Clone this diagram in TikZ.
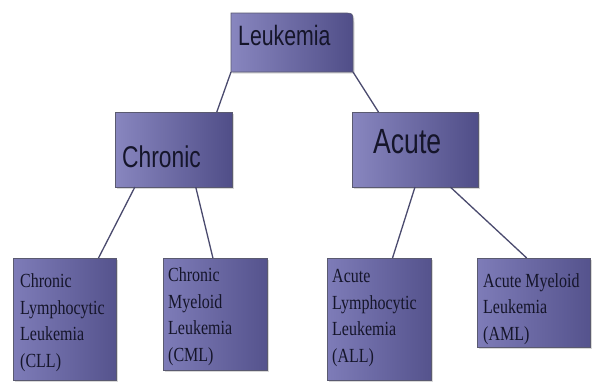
\documentclass[tikz,border=0pt]{standalone}
\usepackage{fontspec}
\usetikzlibrary{calc,shadows}
\newfontfamily\hdfont[FakeStretch=0.76]{Liberation Sans}
\newfontfamily\bdfont[FakeStretch=0.8]{Liberation Serif}
\definecolor{boxL}{HTML}{8886BF}
\definecolor{boxR}{HTML}{504E88}
\definecolor{boxLb}{HTML}{7E7CB8}
\definecolor{boxRb}{HTML}{55538D}
\definecolor{edgec}{HTML}{5A5A70}
\definecolor{linec}{HTML}{4A4A6E}
\definecolor{txt}{HTML}{15152A}
\tikzset{
  topbox/.style={draw=edgec, line width=0.6pt, left color=boxL, right color=boxR,
    drop shadow={shadow xshift=1.5pt, shadow yshift=-1.5pt, opacity=0.3}},
  subbox/.style={draw=edgec, line width=0.6pt, left color=boxLb, right color=boxRb,
    drop shadow={shadow xshift=1.5pt, shadow yshift=-1.5pt, opacity=0.3}},
  boxnode/.style={rectangle, inner sep=0pt, outer sep=0pt},
  conn/.style={draw=linec, line width=1.3pt},
  headtxt/.style={anchor=base west, inner sep=0pt, text=txt},
  bodytxt/.style={anchor=base west, inner sep=0pt, text=txt, align=left,
    font=\bdfont\fontsize{20}{26.5}\selectfont}
}
\begin{document}
\begin{tikzpicture}[x=1pt,y=-1pt]
\useasboundingbox (0,0) rectangle (596,381);
\fill[white] (0,0) rectangle (596,381);
% box placeholders
\node[boxnode, minimum width=122pt, minimum height=59pt] (leuk) at (292,42.5) {};
\path[topbox] (leuk.south west) -- (leuk.north west) -- ([xshift=-9pt]leuk.north east)
  .. controls (leuk.north east) .. ([yshift=-9pt]leuk.north east) -- (leuk.south east) -- cycle;
\node[boxnode, topbox, minimum width=117pt, minimum height=75pt] (chr) at (173.5,149.5) {};
\node[boxnode, topbox, minimum width=126pt, minimum height=75pt] (acu) at (415,149.5) {};
\node[boxnode, subbox, minimum width=103pt, minimum height=122pt] (cll) at (64.5,319) {};
\node[boxnode, subbox, minimum width=104pt, minimum height=112pt] (cml) at (215,314) {};
\node[boxnode, subbox, minimum width=104pt, minimum height=122pt] (all) at (379,319) {};
\node[boxnode, subbox, minimum width=113pt, minimum height=89pt] (aml) at (533.5,302.5) {};
% texts (base = last line baseline)
\node[headtxt, font=\hdfont\fontsize{28}{28}\selectfont] (tleuk) at (238,45) {Leukemia};
\node[headtxt, font=\hdfont\fontsize{30}{30}\selectfont] (tchr) at (122,167) {Chronic};
\node[headtxt, font=\hdfont\fontsize{35}{35}\selectfont] (tacu) at (373,153) {Acute};
\node[bodytxt] (tcll) at (20,367) {Chronic\\Lymphocytic\\Leukemia\\(CLL)};
\node[bodytxt] (tcml) at (168,361) {Chronic\\Myeloid\\Leukemia\\(CML)};
\node[bodytxt] (tall) at (332,362) {Acute\\Lymphocytic\\Leukemia\\(ALL)};
\node[bodytxt] (taml) at (483,340) {Acute Myeloid\\Leukemia\\(AML)};
% connectors
\draw[conn] (leuk.south west) -- ($(chr.north west)!0.87!(chr.north east)$);
\draw[conn] (leuk.south east) -- ($(acu.north west)!0.21!(acu.north east)$);
\draw[conn] ($(chr.south west)!0.17!(chr.south east)$) -- ($(cll.north west)!0.83!(cll.north east)$);
\draw[conn] ($(chr.south west)!0.69!(chr.south east)$) -- ($(cml.north west)!0.48!(cml.north east)$);
\draw[conn] ($(acu.south west)!0.5!(acu.south east)$) -- ($(all.north west)!0.63!(all.north east)$);
\draw[conn] ($(acu.south west)!0.78!(acu.south east)$) -- ($(aml.north west)!0.44!(aml.north east)$);
\end{tikzpicture}
\end{document}
